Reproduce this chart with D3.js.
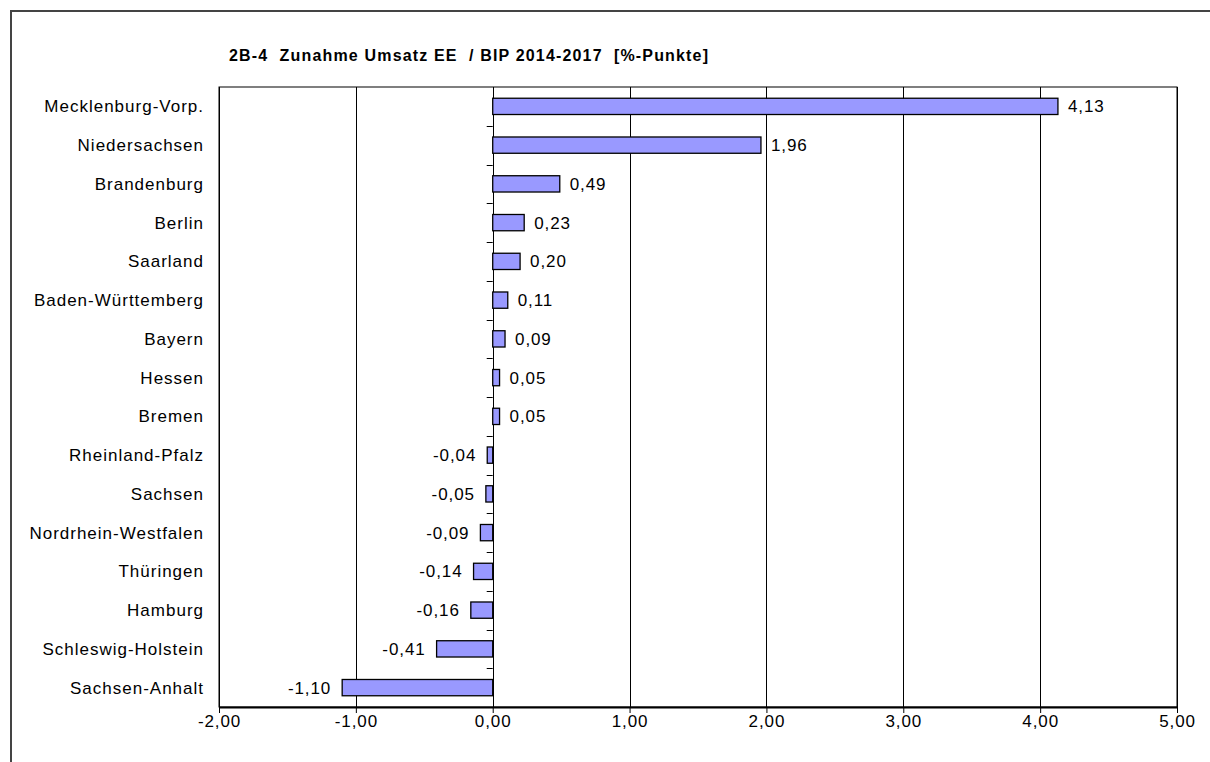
<!DOCTYPE html>
<html>
<head>
<meta charset="utf-8">
<script src="https://cdn.jsdelivr.net/npm/d3@7"></script>
<style>
  body { margin: 0; background: #fff; overflow: hidden; }
  svg { display: block; font-family: Arial, "Liberation Sans", sans-serif; }
</style>
</head>
<body>
<div class="chart-container"></div>
<script>
const states = ['Mecklenburg-Vorp.', 'Niedersachsen', 'Brandenburg', 'Berlin', 'Saarland',
    'Baden-Württemberg', 'Bayern', 'Hessen', 'Bremen', 'Rheinland-Pfalz', 'Sachsen',
    'Nordrhein-Westfalen', 'Thüringen', 'Hamburg', 'Schleswig-Holstein', 'Sachsen-Anhalt'];
const values = [4.13, 1.96, 0.49, 0.23, 0.20, 0.11, 0.09, 0.05, 0.05, -0.04, -0.05,
    -0.09, -0.14, -0.16, -0.41, -1.10];
const xTicks = [-2, -1, 0, 1, 2, 3, 4, 5];
const title = '2B-4  Zunahme Umsatz EE  / BIP 2014-2017  [%-Punkte]';

const barColor = '#9999ff';
const fmt = v => d3.format('.2f')(v).replace('.', ',').replace('\u2212', '-');

const outerWidth = 1210;
const outerHeight = 762;
const margin = {top: 87, right: 33, bottom: 55, left: 219};
const width = outerWidth - margin.left - margin.right;
const height = 707 - margin.top;

const svg = d3.select('.chart-container').append('svg')
    .attr('width', outerWidth)
    .attr('height', outerHeight);

// outer frame: only top and left edges are inside the picture
svg.append('path')
    .attr('d', `M11,${outerHeight + 5}V11H${outerWidth + 5}`)
    .attr('fill', 'none')
    .attr('stroke', '#444')
    .attr('stroke-width', 2);

svg.append('text')
    .attr('x', 229)
    .attr('y', 61)
    .attr('textLength', 479)
    .attr('lengthAdjust', 'spacing')
    .style('font-size', '16px')
    .style('font-weight', 'bold')
    .attr('xml:space', 'preserve')
    .text(title);

const g = svg.append('g')
    .attr('transform', `translate(${margin.left}, ${margin.top})`);

const x = d3.scaleLinear().domain([-2, 5]).range([0, width]);
const y = d3.scaleBand().domain(states).range([0, height]).paddingInner(0.58).paddingOuter(0.29);
const yb = d3.scaleBand().domain(states).range([0, height]);

// plot frame
g.append('rect')
    .attr('width', width).attr('height', height)
    .attr('fill', 'none').attr('stroke', '#000').attr('stroke-width', 1);

// gridlines
g.append('g')
    .selectAll('line')
    .data(xTicks)
    .join('line')
    .attr('x1', d => Math.round(x(d)) + 0.5)
    .attr('x2', d => Math.round(x(d)) + 0.5)
    .attr('y1', 0).attr('y2', height)
    .attr('stroke', '#000');

// x axis
const gx = g.append('g')
    .attr('transform', `translate(0, ${height})`)
    .call(d3.axisBottom(x).tickValues(xTicks).tickFormat(fmt).tickSizeInner(6).tickSizeOuter(0));
gx.select('.domain').attr('stroke', '#000').attr('stroke-width', 2);
gx.selectAll('.tick line').attr('stroke', '#000');
gx.selectAll('.tick text')
    .attr('y', 8)
    .style('font-size', '17px')
    .style('letter-spacing', '0.9px')
    .style('font-family', 'Arial, "Liberation Sans", sans-serif')
    .attr('fill', '#000');

// zero axis with category ticks at band boundaries
g.append('g')
    .selectAll('line')
    .data(states.slice(1))
    .join('line')
    .attr('x1', x(0) - 6).attr('x2', x(0))
    .attr('y1', d => Math.round(yb(d)) + 0.5)
    .attr('y2', d => Math.round(yb(d)) + 0.5)
    .attr('stroke', '#000');

// bars
g.append('g')
    .selectAll('rect')
    .data(values)
    .join('rect')
    .attr('x', d => x(Math.min(0, d)))
    .attr('y', (d, i) => y(states[i]))
    .attr('width', d => Math.abs(x(d) - x(0)))
    .attr('height', y.bandwidth())
    .attr('fill', barColor)
    .attr('stroke', '#000')
    .attr('stroke-width', 1.3);

// value labels
g.append('g')
    .selectAll('text')
    .data(values)
    .join('text')
    .attr('x', d => d >= 0 ? x(d) + 10 : x(d) - 11)
    .attr('y', (d, i) => yb(states[i]) + yb.bandwidth() / 2)
    .attr('dy', '0.36em')
    .attr('text-anchor', d => d >= 0 ? 'start' : 'end')
    .style('font-size', '17px')
    .style('letter-spacing', '0.9px')
    .text(fmt);

// category labels
g.append('g')
    .selectAll('text')
    .data(states)
    .join('text')
    .attr('x', -15)
    .attr('y', d => yb(d) + yb.bandwidth() / 2)
    .attr('dy', '0.36em')
    .attr('text-anchor', 'end')
    .style('font-size', '17px')
    .style('letter-spacing', '1px')
    .text(d => d);
</script>
</body>
</html>
